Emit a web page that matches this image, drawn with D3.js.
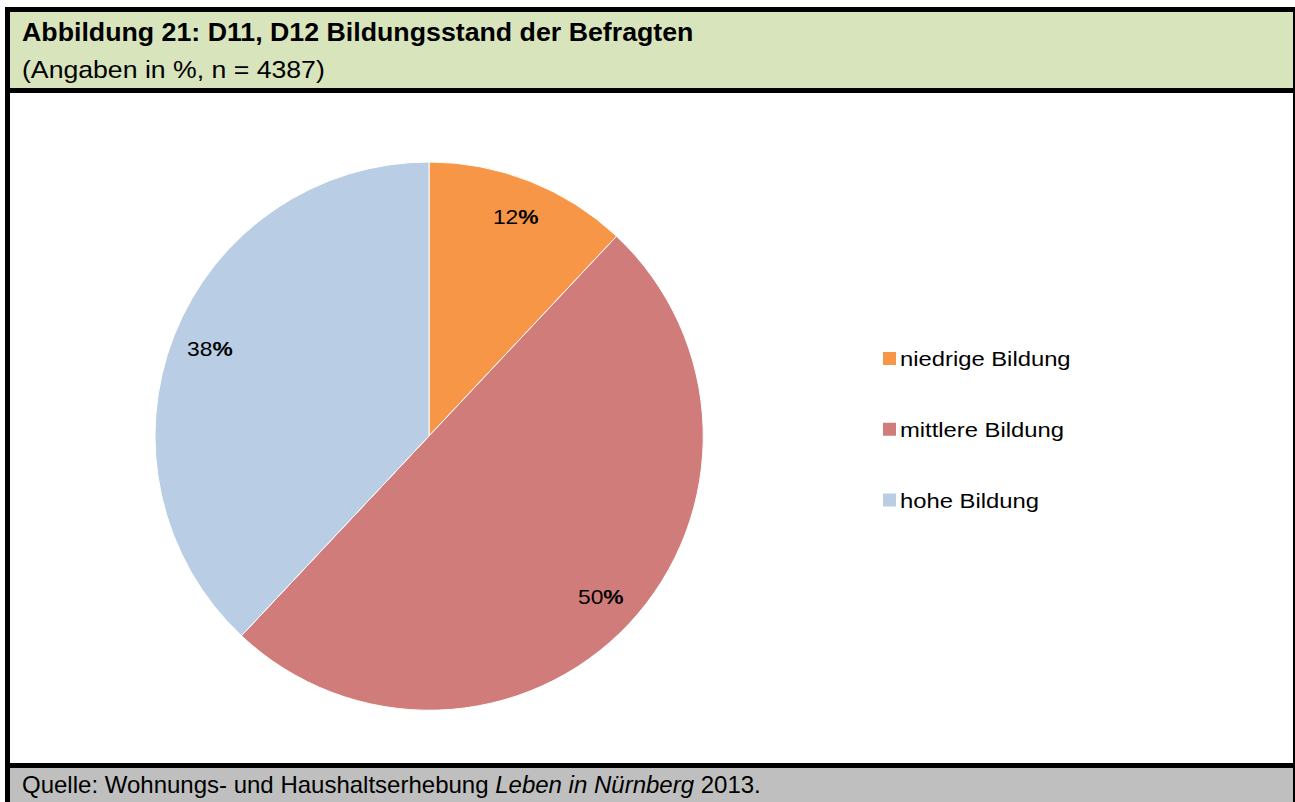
<!DOCTYPE html>
<html>
<head>
<meta charset="utf-8">
<script src="https://cdn.jsdelivr.net/npm/d3@7"></script>
<style>
  body { margin: 0; background: #fff; }
  svg { display: block; }
  text { font-family: "Liberation Sans", Arial, sans-serif; fill: #000; }
</style>
</head>
<body>
<div id="wrapper"></div>
<script>
// Data
const categories = ["niedrige Bildung", "mittlere Bildung", "hohe Bildung"]
const values = [12, 50, 38]
const colors = ["#f79646", "#d07c7a", "#b9cde5"]
const title = "Abbildung 21: D11, D12 Bildungsstand der Befragten"
const subtitle = "(Angaben in %, n = 4387)"

const dims = { width: 1295, height: 802 }

const svg = d3.select("#wrapper")
  .append("svg")
    .attr("width", dims.width)
    .attr("height", dims.height)

// frame
svg.append("rect")
  .attr("x", 7).attr("y", 9)
  .attr("width", 1286).attr("height", 81)
  .attr("fill", "#d8e4bc")
svg.append("rect")
  .attr("x", 7).attr("y", 765)
  .attr("width", 1286).attr("height", 40)
  .attr("fill", "#bfbfbf")

const frame = svg.append("g")
  .attr("stroke", "#000")
  .attr("stroke-width", 5)
  .attr("fill", "none")
frame.append("line").attr("x1", 5).attr("x2", 1298).attr("y1", 9.5).attr("y2", 9.5)
frame.append("line").attr("x1", 7.5).attr("x2", 7.5).attr("y1", 7).attr("y2", 802)
frame.append("line").attr("x1", 1295.5).attr("x2", 1295.5).attr("y1", 7).attr("y2", 802)
frame.append("line").attr("x1", 5).attr("x2", 1298).attr("y1", 90.5).attr("y2", 90.5)
frame.append("line").attr("x1", 5).attr("x2", 1298).attr("y1", 765.5).attr("y2", 765.5)

// header text (the source text is a bit wider than Arial)
svg.append("text")
  .attr("transform", "translate(22, 41) scale(1.07, 1)")
  .style("font-size", "25px")
  .style("font-weight", "bold")
  .text(title)
svg.append("text")
  .attr("transform", "translate(22, 78) scale(1.11, 1)")
  .style("font-size", "24px")
  .text(subtitle)

const footer = svg.append("text")
  .attr("x", 22).attr("y", 793)
  .style("font-size", "24px")
footer.append("tspan").text("Quelle: Wohnungs- und Haushaltserhebung ")
footer.append("tspan").style("font-style", "italic").text("Leben in Nürnberg")
footer.append("tspan").text(" 2013.")

// pie
const cx = 429, cy = 436, radius = 274

const pie = d3.pie().sort(null).value(d => d)
const arcs = pie(values)
const arc = d3.arc().innerRadius(0).outerRadius(radius)
const colorScale = d3.scaleOrdinal().domain(categories).range(colors)

const bounds = svg.append("g")
  .attr("transform", `translate(${cx}, ${cy})`)

bounds.selectAll("path")
  .data(arcs)
  .join("path")
    .attr("d", arc)
    .attr("fill", (d, i) => colorScale(categories[i]))
    .attr("stroke", "#fff")
    .attr("stroke-width", 1)

const labelArc = d3.arc().innerRadius(radius * 0.86).outerRadius(radius * 0.86)
const lbl = bounds.selectAll("text.lbl")
  .data(arcs)
  .join("text")
    .attr("class", "lbl")
    .attr("transform", d => `translate(${labelArc.centroid(d)}) scale(1.14, 1)`)
    .attr("text-anchor", "middle")
    .attr("dy", "0.35em")
    .style("font-size", "20px")
lbl.append("tspan").text(d => d.data)
lbl.append("tspan").style("font-weight", "bold").text("%")

// legend
const legend = svg.append("g")
  .attr("transform", "translate(883, 0)")
const legendY = d3.scalePoint().domain(categories).range([358.5, 500])

const item = legend.selectAll("g")
  .data(categories)
  .join("g")
    .attr("transform", d => `translate(0, ${legendY(d)})`)
item.append("rect")
  .attr("x", 0).attr("y", -6.5)
  .attr("width", 13).attr("height", 13)
  .attr("fill", d => colorScale(d))
item.append("text")
  .attr("transform", "translate(17, 7.5) scale(1.19, 1)")
  .style("font-size", "20px")
  .text(d => d)
</script>
</body>
</html>
